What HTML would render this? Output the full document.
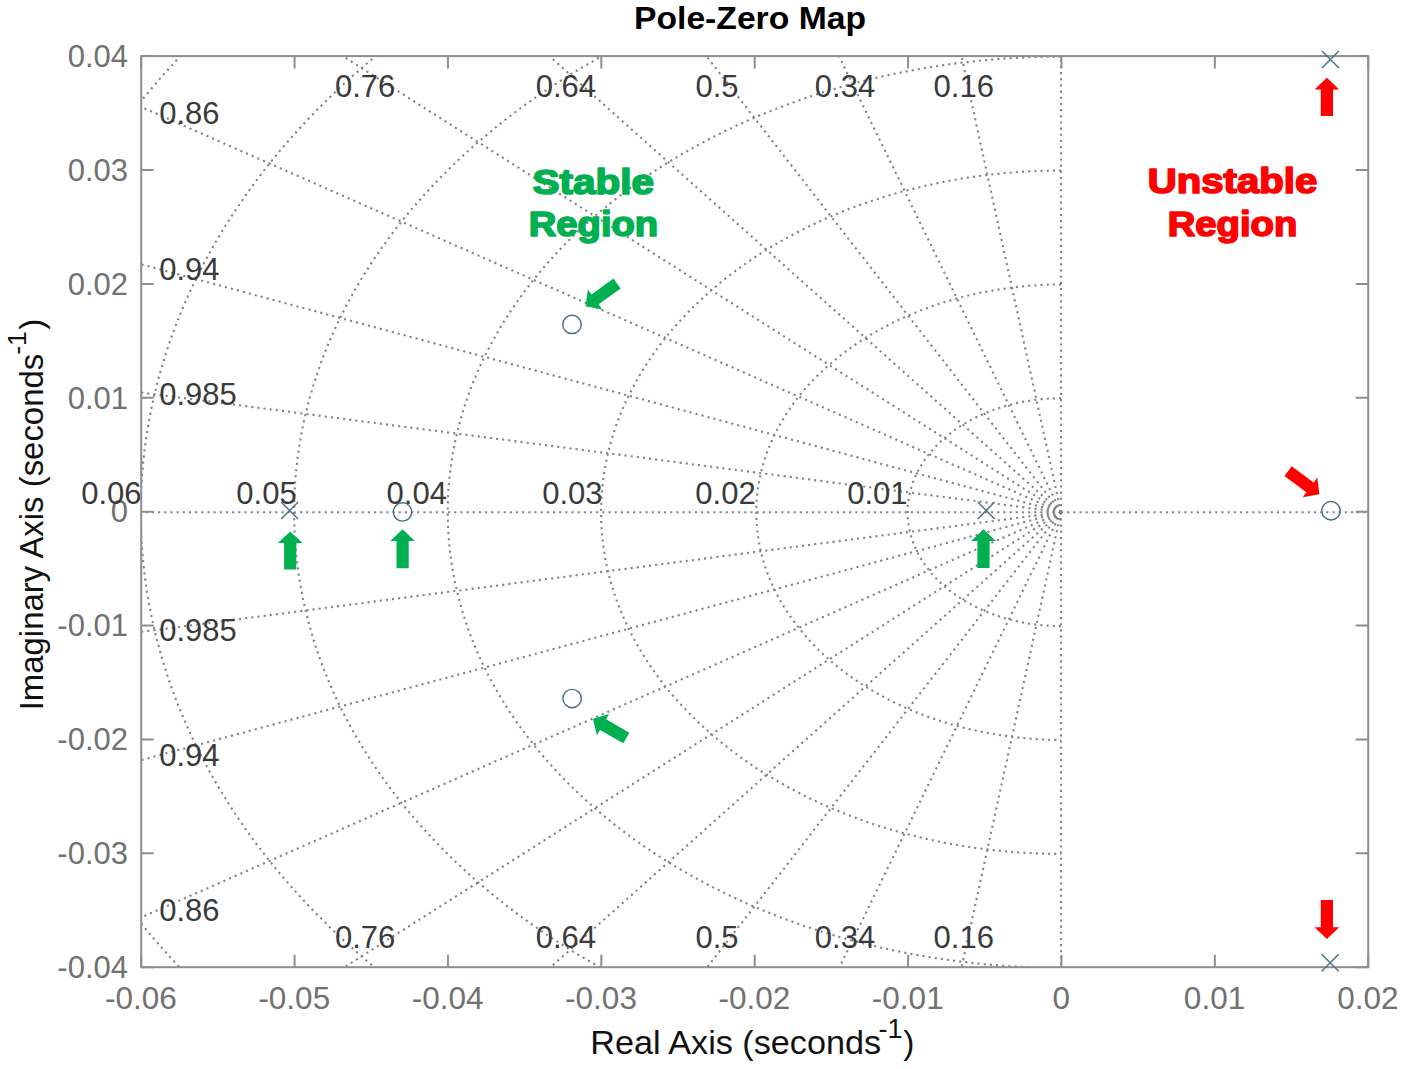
<!DOCTYPE html><html><head><meta charset="utf-8"><style>html,body{margin:0;padding:0;background:#fff;}svg{display:block}text{font-family:"Liberation Sans", sans-serif;}</style></head><body>
<svg width="1405" height="1069" viewBox="0 0 1405 1069">
<rect width="1405" height="1069" fill="#fff"/>
<defs><clipPath id="ax"><rect x="141.2" y="56.1" width="1227.0" height="911.1"/></clipPath></defs>
<g id="grid" clip-path="url(#ax)" fill="none" stroke="#828282" stroke-width="2.1" stroke-dasharray="2.10 4.07"><line x1="1061.00" y1="512.20" x2="956.59" y2="33.87"/><line x1="1061.00" y1="512.20" x2="956.59" y2="990.53"/><line x1="1061.00" y1="512.20" x2="828.11" y2="33.87"/><line x1="1061.00" y1="512.20" x2="828.11" y2="990.53"/><line x1="1061.00" y1="512.20" x2="689.09" y2="33.87"/><line x1="1061.00" y1="512.20" x2="689.09" y2="990.53"/><line x1="1061.00" y1="512.20" x2="524.45" y2="33.87"/><line x1="1061.00" y1="512.20" x2="524.45" y2="990.53"/><line x1="1061.00" y1="512.20" x2="307.72" y2="33.87"/><line x1="1061.00" y1="512.20" x2="307.72" y2="990.53"/><line x1="1061.00" y1="512.20" x2="94.74" y2="86.47"/><line x1="1061.00" y1="512.20" x2="94.74" y2="937.93"/><line x1="1061.00" y1="512.20" x2="94.74" y2="251.79"/><line x1="1061.00" y1="512.20" x2="94.74" y2="772.61"/><line x1="1061.00" y1="512.20" x2="94.74" y2="386.51"/><line x1="1061.00" y1="512.20" x2="94.74" y2="637.89"/><line x1="1061.00" y1="512.20" x2="141.20" y2="512.20"/><line x1="1061.00" y1="512.20" x2="1368.20" y2="512.20"/><line x1="1061.00" y1="512.20" x2="1061.00" y2="56.10"/><line x1="1061.00" y1="512.20" x2="1061.00" y2="967.20"/><path d="M1061.00,398.31 A153.38,113.89 0 0 0 1061.00,626.09"/><path d="M1061.00,284.43 A306.75,227.78 0 0 0 1061.00,739.98"/><path d="M1061.00,170.54 A460.12,341.66 0 0 0 1061.00,853.86"/><path d="M1061.00,56.65 A613.50,455.55 0 0 0 1061.00,967.75"/><path d="M1061.00,-57.24 A766.88,569.44 0 0 0 1061.00,1081.64"/><path d="M1061.00,-171.12 A920.25,683.32 0 0 0 1061.00,1195.53"/><path d="M1061.00,-285.01 A1073.62,797.21 0 0 0 1061.00,1309.41"/></g>
<path d="M141.20,967.20V954.70M141.20,56.10V68.60M294.58,967.20V954.70M294.58,56.10V68.60M447.95,967.20V954.70M447.95,56.10V68.60M601.33,967.20V954.70M601.33,56.10V68.60M754.70,967.20V954.70M754.70,56.10V68.60M908.08,967.20V954.70M908.08,56.10V68.60M1061.45,967.20V954.70M1061.45,56.10V68.60M1214.83,967.20V954.70M1214.83,56.10V68.60M1368.20,967.20V954.70M1368.20,56.10V68.60M141.20,967.20H153.70M1368.20,967.20H1355.70M141.20,853.31H153.70M1368.20,853.31H1355.70M141.20,739.43H153.70M1368.20,739.43H1355.70M141.20,625.54H153.70M1368.20,625.54H1355.70M141.20,511.65H153.70M1368.20,511.65H1355.70M141.20,397.76H153.70M1368.20,397.76H1355.70M141.20,283.88H153.70M1368.20,283.88H1355.70M141.20,169.99H153.70M1368.20,169.99H1355.70M141.20,56.10H153.70M1368.20,56.10H1355.70" stroke="#8e8e8e" stroke-width="2" fill="none"/>
<rect x="141.2" y="56.1" width="1227.0" height="911.1" fill="none" stroke="#8e8e8e" stroke-width="2"/>
<text x="128" y="978.00" font-size="31" fill="#717171" text-anchor="end">-0.04</text>
<text x="128" y="864.11" font-size="31" fill="#717171" text-anchor="end">-0.03</text>
<text x="128" y="750.23" font-size="31" fill="#717171" text-anchor="end">-0.02</text>
<text x="128" y="636.34" font-size="31" fill="#717171" text-anchor="end">-0.01</text>
<text x="128" y="522.45" font-size="31" fill="#717171" text-anchor="end">0</text>
<text x="128" y="408.56" font-size="31" fill="#717171" text-anchor="end">0.01</text>
<text x="128" y="294.68" font-size="31" fill="#717171" text-anchor="end">0.02</text>
<text x="128" y="180.79" font-size="31" fill="#717171" text-anchor="end">0.03</text>
<text x="128" y="66.90" font-size="31" fill="#717171" text-anchor="end">0.04</text>
<text x="140.90" y="1008.6" font-size="31.5" fill="#717171" text-anchor="middle">-0.06</text>
<text x="294.28" y="1008.6" font-size="31.5" fill="#717171" text-anchor="middle">-0.05</text>
<text x="447.65" y="1008.6" font-size="31.5" fill="#717171" text-anchor="middle">-0.04</text>
<text x="601.03" y="1008.6" font-size="31.5" fill="#717171" text-anchor="middle">-0.03</text>
<text x="754.40" y="1008.6" font-size="31.5" fill="#717171" text-anchor="middle">-0.02</text>
<text x="907.78" y="1008.6" font-size="31.5" fill="#717171" text-anchor="middle">-0.01</text>
<text x="1061.15" y="1008.6" font-size="31.5" fill="#717171" text-anchor="middle">0</text>
<text x="1214.53" y="1008.6" font-size="31.5" fill="#717171" text-anchor="middle">0.01</text>
<text x="1367.90" y="1008.6" font-size="31.5" fill="#717171" text-anchor="middle">0.02</text>
<text x="907.58" y="504.3" font-size="31" fill="#3a3a3a" text-anchor="end">0.01</text>
<text x="755.70" y="504.3" font-size="31" fill="#3a3a3a" text-anchor="end">0.02</text>
<text x="602.62" y="504.3" font-size="31" fill="#3a3a3a" text-anchor="end">0.03</text>
<text x="446.95" y="504.3" font-size="31" fill="#3a3a3a" text-anchor="end">0.04</text>
<text x="296.68" y="504.3" font-size="31" fill="#3a3a3a" text-anchor="end">0.05</text>
<text x="141.60" y="504.3" font-size="31" fill="#3a3a3a" text-anchor="end">0.06</text>
<text x="334.90" y="97.2" font-size="31" fill="#3a3a3a">0.76</text>
<text x="334.90" y="947.7" font-size="31" fill="#3a3a3a">0.76</text>
<text x="535.70" y="97.2" font-size="31" fill="#3a3a3a">0.64</text>
<text x="535.70" y="947.7" font-size="31" fill="#3a3a3a">0.64</text>
<text x="695.40" y="97.2" font-size="31" fill="#3a3a3a">0.5</text>
<text x="695.40" y="947.7" font-size="31" fill="#3a3a3a">0.5</text>
<text x="814.80" y="97.2" font-size="31" fill="#3a3a3a">0.34</text>
<text x="814.80" y="947.7" font-size="31" fill="#3a3a3a">0.34</text>
<text x="933.60" y="97.2" font-size="31" fill="#3a3a3a">0.16</text>
<text x="933.60" y="947.7" font-size="31" fill="#3a3a3a">0.16</text>
<text x="159.2" y="124.40" font-size="31" fill="#3a3a3a">0.86</text>
<text x="159.2" y="921.40" font-size="31" fill="#3a3a3a">0.86</text>
<text x="159.2" y="279.60" font-size="31" fill="#3a3a3a">0.94</text>
<text x="159.2" y="766.20" font-size="31" fill="#3a3a3a">0.94</text>
<text x="159.2" y="404.90" font-size="31" fill="#3a3a3a">0.985</text>
<text x="159.2" y="640.90" font-size="31" fill="#3a3a3a">0.985</text>
<path d="M281.10,502.00L298.10,519.00M281.10,519.00L298.10,502.00" stroke="#4a7080" stroke-width="1.45" fill="none"/>
<path d="M977.70,501.90L994.70,518.90M977.70,518.90L994.70,501.90" stroke="#4a7080" stroke-width="1.45" fill="none"/>
<path d="M1321.90,51.00L1338.90,68.00M1321.90,68.00L1338.90,51.00" stroke="#4a7080" stroke-width="1.45" fill="none"/>
<path d="M1321.70,954.30L1338.70,971.30M1321.70,971.30L1338.70,954.30" stroke="#4a7080" stroke-width="1.45" fill="none"/>
<circle cx="402.50" cy="511.90" r="9.2" stroke="#4a7080" stroke-width="1.45" fill="none"/>
<circle cx="572.00" cy="324.40" r="9.2" stroke="#4a7080" stroke-width="1.45" fill="none"/>
<circle cx="572.10" cy="698.60" r="9.2" stroke="#4a7080" stroke-width="1.45" fill="none"/>
<circle cx="1331.00" cy="510.80" r="9.2" stroke="#4a7080" stroke-width="1.45" fill="none"/>
<path d="M0.00,0.00 L12.30,11.70 L6.10,11.70 L6.10,38.10 L-6.10,38.10 L-6.10,11.70 L-12.30,11.70Z" fill="#00b050" transform="translate(290.20,531.40) rotate(0.00)"/>
<path d="M0.00,0.00 L12.30,11.70 L6.10,11.70 L6.10,39.10 L-6.10,39.10 L-6.10,11.70 L-12.30,11.70Z" fill="#00b050" transform="translate(402.60,529.20) rotate(0.00)"/>
<path d="M0.00,0.00 L12.30,11.70 L6.10,11.70 L6.10,38.70 L-6.10,38.70 L-6.10,11.70 L-12.30,11.70Z" fill="#00b050" transform="translate(983.50,529.20) rotate(0.00)"/>
<path d="M0.00,0.00 L12.30,11.70 L6.10,11.70 L6.10,38.85 L-6.10,38.85 L-6.10,11.70 L-12.30,11.70Z" fill="#00b050" transform="translate(585.60,306.30) rotate(-125.94)"/>
<path d="M0.00,0.00 L12.30,11.70 L6.10,11.70 L6.10,38.54 L-6.10,38.54 L-6.10,11.70 L-12.30,11.70Z" fill="#00b050" transform="translate(592.90,718.80) rotate(-60.21)"/>
<path d="M0.00,0.00 L12.30,11.70 L6.10,11.70 L6.10,38.97 L-6.10,38.97 L-6.10,11.70 L-12.30,11.70Z" fill="#ff0000" transform="translate(1319.40,494.30) rotate(126.44)"/>
<path d="M0.00,0.00 L12.30,11.70 L6.10,11.70 L6.10,38.10 L-6.10,38.10 L-6.10,11.70 L-12.30,11.70Z" fill="#ff0000" transform="translate(1326.90,77.80) rotate(0.00)"/>
<path d="M0.00,0.00 L12.30,11.70 L6.10,11.70 L6.10,39.00 L-6.10,39.00 L-6.10,11.70 L-12.30,11.70Z" fill="#ff0000" transform="translate(1326.90,938.90) rotate(180.00)"/>
<text x="593.3" y="193.6" font-size="35.5" font-weight="bold" fill="#00b050" text-anchor="middle" textLength="121.6" lengthAdjust="spacingAndGlyphs" stroke="#00b050" stroke-width="1.7" stroke-linejoin="round">Stable</text>
<text x="593.5" y="235.9" font-size="35.5" font-weight="bold" fill="#00b050" text-anchor="middle" textLength="129.4" lengthAdjust="spacingAndGlyphs" stroke="#00b050" stroke-width="1.7" stroke-linejoin="round">Region</text>
<text x="1232.5" y="193.4" font-size="35.5" font-weight="bold" fill="#ff0000" text-anchor="middle" textLength="169.4" lengthAdjust="spacingAndGlyphs" stroke="#ff0000" stroke-width="1.7" stroke-linejoin="round">Unstable</text>
<text x="1232.5" y="236.1" font-size="35.5" font-weight="bold" fill="#ff0000" text-anchor="middle" textLength="129.6" lengthAdjust="spacingAndGlyphs" stroke="#ff0000" stroke-width="1.7" stroke-linejoin="round">Region</text>
<text x="634" y="29.4" font-size="32" font-weight="bold" fill="#000" textLength="232" lengthAdjust="spacingAndGlyphs">Pole-Zero Map</text>
<text x="590.3" y="1054.3" font-size="33.5" fill="#111" textLength="290.8" lengthAdjust="spacingAndGlyphs">Real Axis (seconds</text>
<text x="878.4" y="1038.4" font-size="27" fill="#111">-1</text>
<text x="903.2" y="1054.3" font-size="33.5" fill="#111">)</text>
<text transform="translate(43.1,710.3) rotate(-90)" font-size="32.9" fill="#111">Imaginary Axis (seconds</text>
<text transform="translate(26.2,354.8) rotate(-90)" font-size="26.5" fill="#111">-1</text>
<text transform="translate(43.1,329.8) rotate(-90)" font-size="33" fill="#111">)</text>
</svg></body></html>
